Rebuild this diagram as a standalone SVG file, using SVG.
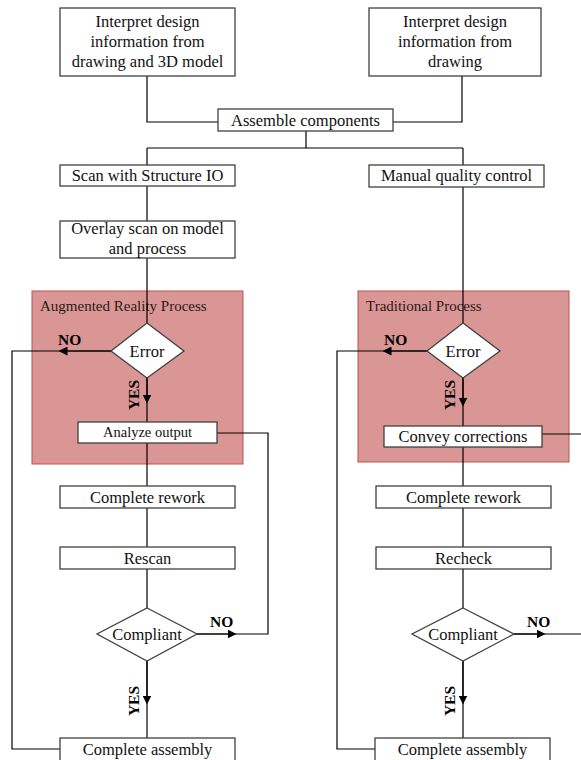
<svg xmlns="http://www.w3.org/2000/svg" width="581" height="760" viewBox="0 0 581 760">
<defs>
<style>
.box{fill:#fff;stroke:#404040;stroke-width:1.3}
.dia{fill:#fff;stroke:#404040;stroke-width:1.3}
.panel{fill:#d99694;stroke:#b85450;stroke-width:1}
.t{font-family:"Liberation Serif","Times New Roman",serif;font-size:16.5px;fill:#111;text-anchor:middle}
.ts{font-family:"Liberation Serif","Times New Roman",serif;font-size:14.5px;fill:#111;text-anchor:middle}
.pl{font-family:"Liberation Serif","Times New Roman",serif;font-size:15px;fill:#2a1a1a}
.lab{font-family:"Liberation Serif","Times New Roman",serif;font-size:15.5px;font-weight:bold;fill:#000}
.c{fill:none;stroke:#000;stroke-width:1.2}
</style>
<marker id="ah" viewBox="0 0 10 10" refX="5" refY="5" markerWidth="9" markerHeight="9" orient="auto" markerUnits="userSpaceOnUse">
<path d="M0,0 L10,5 L0,10 z" fill="#000"/>
</marker>
</defs>
<rect width="581" height="760" fill="#fff"/>
<g id="panel-ar"><rect class="panel" x="32" y="291" width="211" height="173"/><text class="pl" x="40" y="311">Augmented Reality Process</text></g>
<g id="panel-trad"><rect class="panel" x="358" y="291" width="211" height="171"/><text class="pl" x="366" y="311">Traditional Process</text></g>
<g id="connectors">
<path class="c" d="M147,76 V122 H218"/>
<path class="c" d="M462,76 V122 H393"/>
<path class="c" d="M306,131 V148 M147,148 H463 M147,148 V165 M463,148 V165"/>
<path class="c" d="M147,186 V221 M147,258 V323"/>
<path class="c" d="M463,187 V323"/>
<path class="c" d="M111,351 H12 V749 H60"/>
<path class="c" d="M111,351 H63" marker-end="url(#ah)"/>
<path class="c" d="M427,351 H337 V749 H376"/>
<path class="c" d="M427,351 H387" marker-end="url(#ah)"/>
<path class="c" d="M147,378 V422"/>
<path class="c" d="M147,378 V399" marker-end="url(#ah)"/>
<path class="c" d="M463,378 V426"/>
<path class="c" d="M463,378 V402" marker-end="url(#ah)"/>
<path class="c" d="M147,443 V486 M147,508 V547 M147,569 V608"/>
<path class="c" d="M463,447 V486 M463,508 V547 M463,569 V608"/>
<path class="c" d="M217,433 H268 V634 H197"/>
<path class="c" d="M197,634 H232" marker-end="url(#ah)"/>
<path class="c" d="M542,434 H581"/>
<path class="c" d="M514,634 H581"/>
<path class="c" d="M514,634 H541" marker-end="url(#ah)"/>
<path class="c" d="M147,661 V738"/>
<path class="c" d="M147,661 V700" marker-end="url(#ah)"/>
<path class="c" d="M463,661 V738"/>
<path class="c" d="M463,661 V700" marker-end="url(#ah)"/>
</g>
<g id="labels">
<text class="lab" x="58" y="345">NO</text>
<text class="lab" x="384" y="345">NO</text>
<text class="lab" x="210" y="627">NO</text>
<text class="lab" x="527" y="627">NO</text>
<text class="lab" transform="translate(139,395) rotate(-90)" text-anchor="middle">YES</text>
<text class="lab" transform="translate(455,395) rotate(-90)" text-anchor="middle">YES</text>
<text class="lab" transform="translate(139,701) rotate(-90)" text-anchor="middle">YES</text>
<text class="lab" transform="translate(455,701) rotate(-90)" text-anchor="middle">YES</text>
</g>
<g id="n-interp1"><rect class="box" x="60" y="8" width="175" height="68"/><text class="t" x="147.5" y="27">Interpret design</text><text class="t" x="147.5" y="47">information from</text><text class="t" x="147.5" y="67">drawing and 3D model</text></g>
<g id="n-interp2"><rect class="box" x="369" y="8" width="172" height="68"/><text class="t" x="455" y="27">Interpret design</text><text class="t" x="455" y="47">information from</text><text class="t" x="455" y="67">drawing</text></g>
<g id="n-assemble"><rect class="box" x="218" y="109" width="175" height="22"/><text class="t" x="305.5" y="126">Assemble components</text></g>
<g id="n-scan"><rect class="box" x="60" y="165" width="175" height="21"/><text class="t" x="147.5" y="181">Scan with Structure IO</text></g>
<g id="n-manual"><rect class="box" x="369" y="165" width="175" height="22"/><text class="t" x="456.5" y="181">Manual quality control</text></g>
<g id="n-overlay"><rect class="box" x="60" y="221" width="175" height="37"/><text class="t" x="147.5" y="234">Overlay scan on model</text><text class="t" x="147.5" y="254">and process</text></g>
<g id="n-error1"><polygon class="dia" points="147,323 184,351 147,378 111,351"/><text class="t" x="147" y="357">Error</text></g>
<g id="n-error2"><polygon class="dia" points="463,323 500,351 463,378 427,351"/><text class="t" x="463" y="357">Error</text></g>
<g id="n-analyze"><rect class="box" x="78" y="422" width="139" height="21"/><text class="ts" x="147.5" y="437">Analyze output</text></g>
<g id="n-convey"><rect class="box" x="384" y="426" width="158" height="21"/><text class="t" x="463" y="442">Convey corrections</text></g>
<g id="n-rework1"><rect class="box" x="60" y="486" width="175" height="22"/><text class="t" x="147.5" y="503">Complete rework</text></g>
<g id="n-rework2"><rect class="box" x="376" y="486" width="175" height="22"/><text class="t" x="463.5" y="503">Complete rework</text></g>
<g id="n-rescan"><rect class="box" x="60" y="547" width="175" height="22"/><text class="t" x="147.5" y="564">Rescan</text></g>
<g id="n-recheck"><rect class="box" x="376" y="547" width="175" height="22"/><text class="t" x="463.5" y="564">Recheck</text></g>
<g id="n-compl1"><polygon class="dia" points="147,608 197,634 147,661 97,634"/><text class="t" x="147" y="640">Compliant</text></g>
<g id="n-compl2"><polygon class="dia" points="463,608 514,634 463,661 412,634"/><text class="t" x="463" y="640">Compliant</text></g>
<g id="n-assy1"><rect class="box" x="60" y="738" width="175" height="30"/><text class="t" x="147.5" y="755">Complete assembly</text></g>
<g id="n-assy2"><rect class="box" x="375" y="738" width="175" height="30"/><text class="t" x="462.5" y="755">Complete assembly</text></g>
</svg>
